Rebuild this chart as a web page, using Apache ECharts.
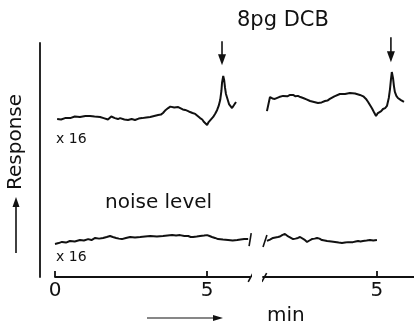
<!DOCTYPE html>
<html><head><meta charset="utf-8">
<script src="https://cdn.jsdelivr.net/npm/echarts@6/dist/echarts.min.js"></script>
<style>html,body{margin:0;padding:0;background:#fff}#c{width:414px;height:324px}</style>
</head><body><div id="c"></div>
<script>
// time in min, response in arbitrary units (0..100 = axis height)
const topTraceA = [[0.07,67.5],[0.2,67.3],[0.33,67.9],[0.5,67.9],[0.65,68.6],[0.82,68.4],[1.0,68.8],[1.15,68.8],[1.3,68.6],[1.48,68.4],[1.6,67.9],[1.74,67.3],[1.85,68.6],[1.97,67.9],[2.07,67.5],[2.14,67.9],[2.28,67.3],[2.40,67.1],[2.52,67.5],[2.63,67.1],[2.75,67.7],[2.86,67.9],[3.0,68.2],[3.13,68.4],[3.26,68.8],[3.39,69.2],[3.48,69.4],[3.55,70.1],[3.64,71.4],[3.72,72.2],[3.79,72.8],[3.85,73.5],[3.92,72.4],[3.98,72.2],[4.05,72.6],[4.11,72.2],[4.2,71.6],[4.28,71.4],[4.36,71.0],[4.44,70.5],[4.52,70.1],[4.61,69.7],[4.69,68.8],[4.77,67.9],[4.84,67.3],[4.90,66.2],[4.95,65.8],[5.00,65.0],[5.05,66.2],[5.10,66.7],[5.20,68.4],[5.27,69.9],[5.33,71.4],[5.38,73.1],[5.43,75.6],[5.47,79.5],[5.49,82.9],[5.53,85.9],[5.56,84.2],[5.59,80.8],[5.62,78.2],[5.66,76.5],[5.72,73.9],[5.77,73.1],[5.82,72.2],[5.88,72.6],[5.95,74.8]];
const topTraceB = [[1.38,70.9],[1.48,76.9],[1.56,76.3],[1.64,76.1],[1.78,76.9],[1.91,77.4],[2.05,77.2],[2.14,77.8],[2.24,77.8],[2.32,77.2],[2.40,77.4],[2.48,76.9],[2.57,76.5],[2.68,75.9],[2.80,75.2],[2.93,74.8],[3.06,74.4],[3.18,74.6],[3.29,75.2],[3.37,75.4],[3.45,76.1],[3.6,77.2],[3.78,78.2],[3.95,78.2],[4.11,78.6],[4.28,78.4],[4.44,77.8],[4.55,77.2],[4.64,76.1],[4.71,74.8],[4.77,73.5],[4.84,72.0],[4.90,70.5],[4.97,68.8],[5.02,69.9],[5.07,70.5],[5.14,70.9],[5.20,71.8],[5.27,72.2],[5.33,73.1],[5.39,76.5],[5.43,80.3],[5.46,84.2],[5.49,87.6],[5.53,85.0],[5.56,81.6],[5.59,79.1],[5.64,77.4],[5.69,76.5],[5.79,75.6],[5.84,75.6],[5.89,74.8]];
const noiseTraceA = [[0,14.1],[0.12,14.5],[0.23,15.0],[0.36,14.7],[0.49,15.4],[0.65,15.2],[0.82,15.8],[0.95,15.6],[1.09,16.2],[1.2,15.8],[1.32,16.7],[1.45,16.4],[1.58,16.7],[1.7,17.1],[1.81,17.5],[1.9,17.1],[2.01,16.7],[2.1,16.4],[2.20,16.2],[2.33,16.7],[2.47,17.1],[2.63,16.9],[2.80,17.1],[2.96,17.3],[3.13,17.5],[3.35,17.3],[3.55,17.5],[3.7,17.7],[3.85,17.9],[3.98,17.7],[4.11,17.9],[4.25,17.5],[4.38,17.5],[4.46,17.1],[4.54,17.1],[4.66,17.3],[4.77,17.5],[4.9,17.7],[5.00,17.9],[5.08,17.5],[5.16,17.1],[5.26,16.7],[5.36,16.2],[5.52,16.0],[5.69,15.8],[5.84,15.6],[5.99,15.8],[6.1,16.0],[6.22,16.2],[6.35,16.2]];
const noiseTraceB = [[1.38,15.4],[1.48,16.0],[1.58,16.7],[1.66,16.9],[1.74,17.1],[1.81,17.3],[1.88,17.9],[1.97,18.4],[2.04,17.7],[2.11,17.1],[2.17,16.7],[2.24,16.2],[2.32,16.4],[2.40,16.7],[2.47,17.1],[2.53,17.1],[2.61,16.0],[2.70,15.0],[2.78,15.6],[2.86,16.2],[2.95,16.4],[3.03,16.7],[3.11,16.4],[3.19,15.8],[3.28,15.6],[3.36,15.4],[3.5,15.2],[3.62,15.0],[3.74,14.7],[3.85,14.5],[3.95,14.7],[4.05,14.9],[4.13,14.9],[4.21,14.9],[4.3,15.2],[4.38,15.4],[4.46,15.2],[4.54,15.4],[4.66,15.6],[4.77,15.8],[4.88,15.6],[5.00,15.8]];
const peakArrowA = [[5.49,100.8],[5.49,92.8]];
const peakArrowB = [[5.46,102.5],[5.46,94.1]];
const axisBreakA = [[6.35,-2.1],[6.51,1.7]];
const axisBreakB = [[1.21,-2.1],[1.37,1.7]];
const noiseBreakA = [[6.38,13.2],[6.45,18.8]];
const noiseBreakB = [[1.25,12.8],[1.38,17.9]];
const tickLabelsA = [0, 5];
const tickLabelsB = [5];

const FONT = 'DejaVu Sans';
const ink = '#111';
const chart = echarts.init(document.getElementById('c'));

function traceSeries(data, idx) {
  return {type:'line', xAxisIndex:idx, yAxisIndex:idx, data:data, symbol:'none', smooth:false,
    lineStyle:{color:ink, width:2}, clip:false, silent:true, animation:false};
}
function markSeries(data, idx, w) {
  return {type:'line', xAxisIndex:idx, yAxisIndex:idx, data:data, symbol:'none',
    lineStyle:{color:ink, width:w||1.6}, clip:false, silent:true, animation:false};
}
function arrowSeries(data, idx) {
  return {type:'line', xAxisIndex:idx, yAxisIndex:idx, data:data, clip:false, silent:true, animation:false,
    showSymbol:true, showAllSymbol:true,
    symbol:function(v, p){ return p.dataIndex === data.length-1 ? 'triangle' : 'none'; },
    symbolSize:[8,11], symbolRotate:180, symbolKeepAspect:false,
    itemStyle:{color:ink, borderWidth:0}, lineStyle:{color:ink, width:1.6}};
}

const xBase = {type:'value', splitLine:{show:false},
  axisLine:{show:true, onZero:false, lineStyle:{color:ink, width:1.8}},
  axisTick:{show:true, inside:true, length:6, lineStyle:{color:ink, width:1.8}},
  axisLabel:{color:ink, fontFamily:FONT, fontSize:20, margin:4}};

chart.setOption({
  backgroundColor:'#fff',
  animation:false,
  grid:[
    {left:55, top:43, width:195, height:234},
    {left:263, top:43, right:0, height:234}
  ],
  xAxis:[
    Object.assign({}, xBase, {gridIndex:0, min:0, max:6.41,
      axisTick:Object.assign({}, xBase.axisTick, {customValues:tickLabelsA}),
      axisLabel:Object.assign({}, xBase.axisLabel, {customValues:tickLabelsA})}),
    Object.assign({}, xBase, {gridIndex:1, min:1.25, max:6.22,
      axisTick:Object.assign({}, xBase.axisTick, {customValues:tickLabelsB}),
      axisLabel:Object.assign({}, xBase.axisLabel, {customValues:tickLabelsB})})
  ],
  yAxis:[
    {type:'value', gridIndex:0, min:0, max:100, offset:15, position:'left', splitLine:{show:false},
      axisLine:{show:true, onZero:false, lineStyle:{color:ink, width:1.8}}, axisTick:{show:false}, axisLabel:{show:false}},
    {type:'value', gridIndex:1, min:0, max:100, show:false}
  ],
  series:[
    traceSeries(topTraceA,0),
    traceSeries(topTraceB,1),
    traceSeries(noiseTraceA,0),
    traceSeries(noiseTraceB,1),
    arrowSeries(peakArrowA,0), arrowSeries(peakArrowB,1),
    markSeries(axisBreakA,0), markSeries(axisBreakB,1),
    markSeries(noiseBreakA,0), markSeries(noiseBreakB,1)
  ],
  graphic:[
    {type:'text', left:237, top:10, style:{text:'8pg DCB', font:'21px "DejaVu Sans"', fill:ink}},
    {type:'text', left:105, top:193, style:{text:'noise level', font:'20px "DejaVu Sans"', fill:ink}},
    {type:'text', left:56, top:132, style:{text:'x 16', font:'14px "DejaVu Sans"', fill:ink}},
    {type:'text', left:56, top:250, style:{text:'x 16', font:'14px "DejaVu Sans"', fill:ink}},
    {type:'text', left:267, top:306, style:{text:'min', font:'20px "DejaVu Sans"', fill:ink}},
    {type:'text', x:16, y:142, rotation:Math.PI/2, style:{text:'Response', font:'20px "DejaVu Sans"', fill:ink, align:'center', verticalAlign:'middle'}},
    {type:'line', shape:{x1:147, y1:318, x2:216, y2:318}, style:{stroke:ink, lineWidth:1.2}},
    {type:'polygon', shape:{points:[[223,318],[213,315],[213,321]]}, style:{fill:ink}},
    {type:'line', shape:{x1:16, y1:253, x2:16, y2:205}, style:{stroke:ink, lineWidth:1.6}},
    {type:'polygon', shape:{points:[[16,197],[12.5,207],[19.5,207]]}, style:{fill:ink}}
  ]
});
</script></body></html>
